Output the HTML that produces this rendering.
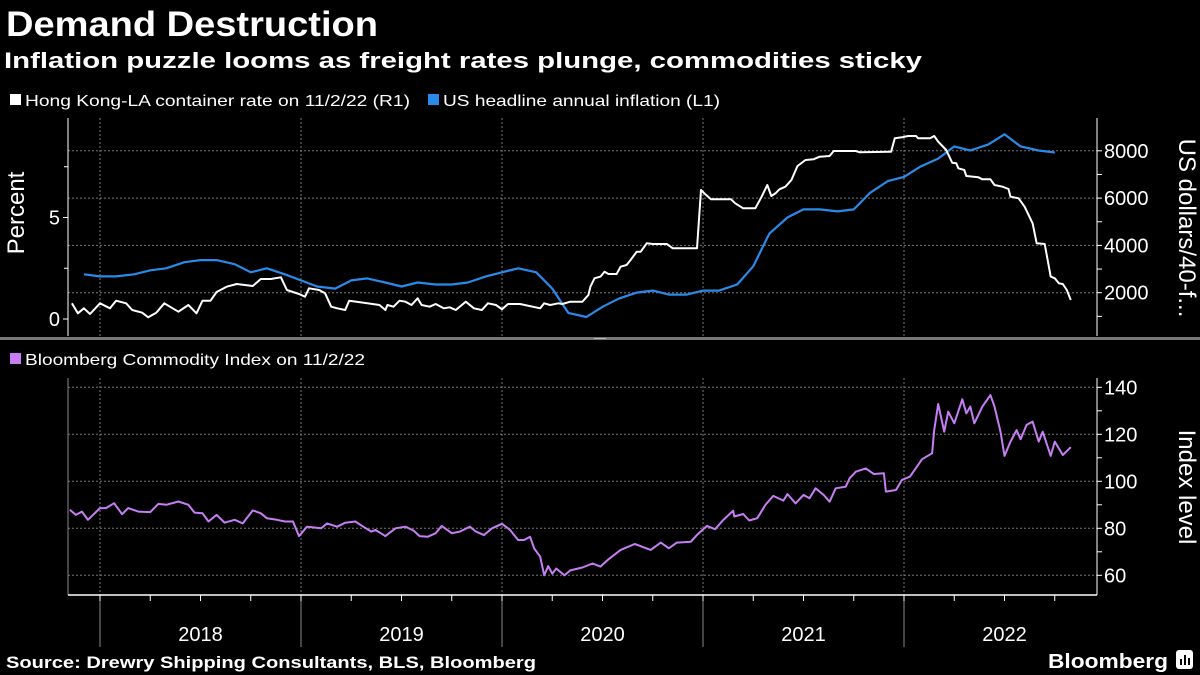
<!DOCTYPE html>
<html><head><meta charset="utf-8">
<style>
html,body{margin:0;padding:0;background:#000;}
svg{display:block;font-family:"Liberation Sans",sans-serif;}
</style></head>
<body>
<svg id="chart" width="1200" height="675" viewBox="0 0 1200 675" xmlns="http://www.w3.org/2000/svg">
<rect x="0" y="0" width="1200" height="675" fill="#000"/>
<text x="6" y="36" fill="#fff" font-size="35" font-weight="bold" textLength="372" lengthAdjust="spacingAndGlyphs">Demand Destruction</text>
<text x="4" y="68" fill="#fff" font-size="22.5" font-weight="bold" textLength="918" lengthAdjust="spacingAndGlyphs">Inflation puzzle looms as freight rates plunge, commodities sticky</text>
<g>
<rect x="10" y="94" width="11" height="11" fill="#fff"/>
<text x="25" y="106" fill="#fff" font-size="16" textLength="385" lengthAdjust="spacingAndGlyphs">Hong Kong-LA container rate on 11/2/22 (R1)</text>
<rect x="428" y="94" width="11" height="11" fill="#2a8ae8"/>
<text x="443" y="106" fill="#fff" font-size="16" textLength="277" lengthAdjust="spacingAndGlyphs">US headline annual inflation (L1)</text>
</g>
<rect x="0" y="337" width="1200" height="3" fill="#777"/>
<rect x="594" y="338" width="12" height="1" fill="#bbb"/>
<g>
<rect x="10" y="353" width="11" height="11" fill="#c77ef5"/>
<text x="25" y="365" fill="#fff" font-size="16" textLength="340" lengthAdjust="spacingAndGlyphs">Bloomberg Commodity Index on 11/2/22</text>
</g>
<g id="grid"></g>
<g id="axes"></g>
<g id="series"></g>
<text transform="translate(24,213) rotate(-90)" text-anchor="middle" fill="#fff" font-size="24">Percent</text>
<text transform="translate(1179,228) rotate(90)" text-anchor="middle" fill="#fff" font-size="24">US dollars/40-f...</text>
<text transform="translate(1179,487) rotate(90)" text-anchor="middle" fill="#fff" font-size="24">Index level</text>
<text x="6" y="668" fill="#fff" font-size="17" font-weight="bold" textLength="530" lengthAdjust="spacingAndGlyphs">Source: Drewry Shipping Consultants, BLS, Bloomberg</text>
<text x="1048" y="668" fill="#fff" font-size="20" font-weight="bold" textLength="120" lengthAdjust="spacingAndGlyphs">Bloomberg</text>
<g><rect x="1176" y="650" width="17" height="19" rx="3" fill="#fff"/><rect x="1180" y="659" width="2" height="6" fill="#000"/><rect x="1184" y="655" width="2" height="10" fill="#000"/><rect x="1188" y="658" width="2" height="7" fill="#000"/></g>
</svg>
<script>
// ---------- data ----------
const inflDates = [2017.92,2018.0,2018.08,2018.17,2018.25,2018.33,2018.42,2018.5,2018.58,2018.67,2018.75,2018.83,2018.92,2019.0,2019.08,2019.17,2019.25,2019.33,2019.42,2019.5,2019.58,2019.67,2019.75,2019.83,2019.92,2020.0,2020.08,2020.17,2020.25,2020.33,2020.42,2020.5,2020.58,2020.67,2020.75,2020.83,2020.92,2021.0,2021.08,2021.17,2021.25,2021.33,2021.42,2021.5,2021.58,2021.67,2021.75,2021.83,2021.92,2022.0,2022.08,2022.17,2022.25,2022.33,2022.42,2022.5,2022.58,2022.67,2022.75];
const inflValues = [2.2,2.1,2.1,2.2,2.4,2.5,2.8,2.9,2.9,2.7,2.3,2.5,2.2,1.9,1.6,1.5,1.9,2.0,1.8,1.6,1.8,1.7,1.7,1.8,2.1,2.3,2.5,2.3,1.5,0.3,0.1,0.6,1.0,1.3,1.4,1.2,1.2,1.4,1.4,1.7,2.6,4.2,5.0,5.4,5.4,5.3,5.4,6.2,6.8,7.0,7.5,7.9,8.5,8.3,8.6,9.1,8.5,8.3,8.2];
const freightDates = [2017.86,2017.89,2017.92,2017.95,2018.00,2018.05,2018.08,2018.13,2018.16,2018.21,2018.24,2018.28,2018.32,2018.39,2018.44,2018.48,2018.51,2018.55,2018.58,2018.63,2018.68,2018.76,2018.80,2018.85,2018.90,2018.93,2018.99,2019.02,2019.04,2019.09,2019.12,2019.15,2019.18,2019.22,2019.24,2019.33,2019.39,2019.42,2019.43,2019.46,2019.49,2019.52,2019.55,2019.58,2019.60,2019.64,2019.67,2019.71,2019.74,2019.77,2019.82,2019.86,2019.90,2019.93,2019.97,2020.00,2020.03,2020.09,2020.19,2020.21,2020.24,2020.28,2020.30,2020.34,2020.40,2020.43,2020.44,2020.46,2020.49,2020.51,2020.53,2020.57,2020.59,2020.62,2020.64,2020.67,2020.69,2020.72,2020.75,2020.82,2020.85,2020.97,2020.99,2021.01,2021.04,2021.14,2021.16,2021.20,2021.26,2021.29,2021.32,2021.34,2021.36,2021.38,2021.41,2021.44,2021.47,2021.51,2021.55,2021.58,2021.63,2021.65,2021.76,2021.78,2021.936,2021.954,2021.99,2022.02,2022.06,2022.07,2022.13,2022.15,2022.17,2022.21,2022.24,2022.26,2022.27,2022.30,2022.31,2022.37,2022.39,2022.43,2022.45,2022.49,2022.52,2022.53,2022.57,2022.60,2022.64,2022.66,2022.70,2022.73,2022.75,2022.77,2022.79,2022.81,2022.83];
const freightValues = [1550,1128,1339,1099,1550,1339,1663,1550,1268,1156,958,1156,1550,1198,1480,1128,1663,1663,2030,2255,2368,2283,2579,2579,2650,2114,1945,1832,2185,2114,1973,1409,1339,1268,1663,1550,1480,1268,1480,1409,1663,1621,1480,1762,1480,1409,1522,1339,1381,1268,1621,1339,1268,1550,1480,1300,1522,1522,1339,1550,1480,1550,1522,1621,1621,1903,2255,2607,2680,2890,2790,2790,3100,3170,3383,3735,3735,4087,4060,4060,3876,3876,6342,6173,5948,5948,5779,5567,5567,6032,6554,6089,6200,6371,6483,6765,7357,7611,7640,7752,7780,7992,7992,7935,7960,8527,8570,8626,8626,8527,8527,8626,8386,8034,7498,7470,7259,7188,6934,6878,6793,6793,6554,6483,6385,6061,5990,5638,4933,4087,4060,2680,2607,2396,2368,2114,1691];
const commDates = [2017.85,2017.88,2017.91,2017.94,2018.00,2018.03,2018.07,2018.11,2018.14,2018.19,2018.25,2018.29,2018.33,2018.39,2018.44,2018.47,2018.51,2018.54,2018.58,2018.62,2018.67,2018.71,2018.76,2018.80,2018.83,2018.88,2018.92,2018.96,2018.99,2019.03,2019.10,2019.13,2019.18,2019.22,2019.27,2019.31,2019.35,2019.37,2019.42,2019.47,2019.52,2019.56,2019.59,2019.63,2019.67,2019.70,2019.75,2019.79,2019.84,2019.87,2019.91,2019.95,2020.00,2020.04,2020.08,2020.11,2020.14,2020.16,2020.19,2020.21,2020.23,2020.25,2020.27,2020.31,2020.34,2020.40,2020.45,2020.49,2020.53,2020.59,2020.66,2020.74,2020.79,2020.83,2020.87,2020.94,2020.97,2021.02,2021.06,2021.10,2021.15,2021.155,2021.20,2021.23,2021.27,2021.31,2021.35,2021.40,2021.42,2021.46,2021.50,2021.53,2021.56,2021.60,2021.63,2021.66,2021.71,2021.73,2021.76,2021.81,2021.85,2021.90,2021.91,2021.96,2021.99,2022.03,2022.09,2022.14,2022.15,2022.17,2022.20,2022.22,2022.25,2022.29,2022.31,2022.33,2022.35,2022.39,2022.43,2022.45,2022.48,2022.50,2022.53,2022.56,2022.58,2022.61,2022.64,2022.67,2022.69,2022.73,2022.75,2022.79,2022.83];
const commValues = [87.9,85.7,87.1,83.6,88.6,88.6,90.7,86.0,88.6,87.1,86.9,90.4,90.0,91.4,90.0,86.7,86.4,82.9,85.7,82.4,83.6,82.1,87.6,86.4,84.3,83.6,82.9,82.9,76.7,80.7,80.0,82.1,80.7,82.4,82.9,80.7,78.6,79.3,76.7,80.0,80.7,79.0,76.7,76.4,77.9,81.0,77.9,78.6,80.7,78.6,77.1,80.0,81.9,79.3,75.0,75.0,76.4,71.4,67.9,60.0,63.9,60.7,62.9,60.0,62.1,63.3,65.0,63.7,66.8,70.8,73.3,70.8,73.9,71.5,73.9,74.3,77.2,81.0,79.6,83.5,87.5,85.0,86.1,83.3,84.3,89.9,93.8,91.8,94.6,90.6,94.2,92.8,97.0,94.2,91.3,97.0,97.7,101.3,104.1,105.5,103.1,103.4,95.6,96.3,100.6,102.0,109.4,111.9,121.8,132.9,121.1,129.6,124.7,134.9,128.9,131.8,124.7,131.8,136.7,131.8,121.1,110.8,116.9,121.8,117.9,124.0,125.4,116.9,121.1,110.8,116.9,111.2,114.5];
const years = [2018,2019,2020,2021,2022];
const pctTicks = [0,5];
const usdTicks = [2000,4000,6000,8000];
const idxTicks = [60,80,100,120,140];

// ---------- scales ----------
const X0 = 68, X1 = 1097;
const xT = t => 100 + (t - 2018) * 201;
const yPct = v => 319 - v * 20.3;
const yUsd = v => 340 - v * 0.02365;
const yIdx = v => 575.3 - (v - 60) * 2.35;
const NS = "http://www.w3.org/2000/svg";
function mk(parent, tag, attrs) {
  const el = document.createElementNS(NS, tag);
  for (const k in attrs) el.setAttribute(k, attrs[k]);
  document.getElementById(parent).appendChild(el);
  return el;
}
years.forEach(y => {
  const g1 = mk('grid','line',{x1:xT(y),x2:xT(y),y1:118,y2:336,stroke:'#777','stroke-width':1,'stroke-dasharray':'2,2'});
  
  
  const g2 = mk('grid','line',{x1:xT(y),x2:xT(y),y1:378,y2:595,stroke:'#777','stroke-width':1,'stroke-dasharray':'2,2'});
  
  
  const g3 = mk('grid','line',{x1:xT(y),x2:xT(y),y1:595,y2:647,stroke:'#888','stroke-width':1});
  
  
  const lbl = mk('axes','text',{x:xT(y+0.5),y:641,fill:'#fff','font-size':20,'text-anchor':'middle'});
  lbl.textContent = y;
  
  
  for (let q = 0; q < 4; q++) {
    const t = mk('axes','line',{x1:xT(y+q/4),x2:xT(y+q/4),y1:595,y2:601,stroke:'#fff','stroke-width':1});
    
    
  }
});
usdTicks.forEach(v => {
  const g = mk('grid','line',{x1:X0,x2:X1,y1:yUsd(v),y2:yUsd(v),stroke:'#777','stroke-dasharray':'2,2'});
  
  
  const t = mk('axes','line',{x1:X1,x2:X1+5,y1:yUsd(v),y2:yUsd(v),stroke:'#fff'});
  
  
  const m = mk('axes','line',{x1:X1,x2:X1+5,y1:yUsd(v-1000),y2:yUsd(v-1000),stroke:'#fff'});
  
  
  const l = mk('axes','text',{x:X1+7,y:yUsd(v)+7,fill:'#fff','font-size':20});
  l.textContent = v;
  
  
});
pctTicks.forEach(v => {
  const t = mk('axes','line',{x1:X0-5,x2:X0,y1:yPct(v),y2:yPct(v),stroke:'#fff'});
  
  
  const m = mk('axes','line',{x1:X0-4,x2:X0,y1:yPct(v+2.5),y2:yPct(v+2.5),stroke:'#fff'});
  
  
  const l = mk('axes','text',{x:X0-8,y:yPct(v)+7,fill:'#fff','font-size':20,'text-anchor':'end'});
  l.textContent = v;
  
  
});
idxTicks.forEach(v => {
  const g = mk('grid','line',{x1:X0,x2:X1,y1:yIdx(v),y2:yIdx(v),stroke:'#777','stroke-dasharray':'2,2'});
  
  
  const t = mk('axes','line',{x1:X1,x2:X1+5,y1:yIdx(v),y2:yIdx(v),stroke:'#fff'});
  
  
  if (v < 140) {
    const m = mk('axes','line',{x1:X1,x2:X1+5,y1:yIdx(v+10),y2:yIdx(v+10),stroke:'#fff'});
    
    
  }
  const l = mk('axes','text',{x:X1+7,y:yIdx(v)+7,fill:'#fff','font-size':20});
  l.textContent = v;
  
  
});
const a1 = mk('axes','line',{x1:X0,x2:X0,y1:118,y2:336,stroke:'#fff'});


const a2 = mk('axes','line',{x1:X1,x2:X1,y1:118,y2:336,stroke:'#fff'});


const a3 = mk('axes','line',{x1:X0,x2:X0,y1:378,y2:595,stroke:'#888'});


const a4 = mk('axes','line',{x1:X1,x2:X1,y1:378,y2:595,stroke:'#fff'});


const a5 = mk('axes','line',{x1:X0,x2:X1,y1:595,y2:595,stroke:'#fff','stroke-width':1.5});


function path(ds, vs, yf) { return ds.map((d,i) => (i ? 'L' : 'M') + xT(d).toFixed(1) + ',' + yf(vs[i]).toFixed(1)).join(''); }
const pInf = mk('series','path',{d:path(inflDates,inflValues,yPct),fill:'none',stroke:'#2a8ae8','stroke-width':2.2,'stroke-linejoin':'round'});


const pFr = mk('series','path',{d:path(freightDates,freightValues,yUsd),fill:'none',stroke:'#fff','stroke-width':2,'stroke-linejoin':'round'});


const pCm = mk('series','path',{d:path(commDates,commValues,yIdx),fill:'none',stroke:'#c77ef5','stroke-width':2,'stroke-linejoin':'round'});


</script>
</body></html>
